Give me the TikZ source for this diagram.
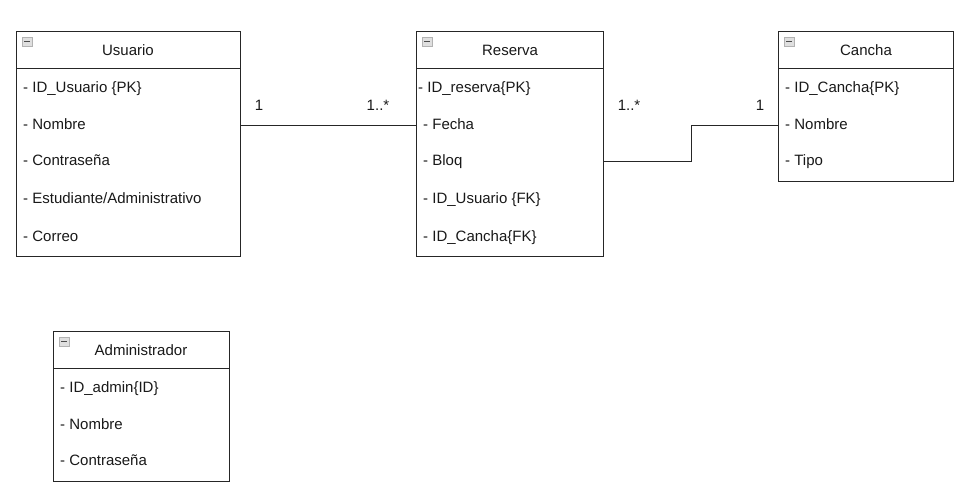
\documentclass[tikz,border=0pt]{standalone}
\usepackage{fontspec}
\setmainfont{Liberation Sans}
\begin{document}
\begin{tikzpicture}[x=1pt,y=-1pt,
  box/.style={draw=black!85,line width=1pt,anchor=north west,inner sep=0pt,fill=white},
  hdr/.style={draw=black!85,line width=1pt},
  ttl/.style={font=\fontsize{15}{17}\selectfont,text=black!90,inner sep=0pt,text height=10.5pt,text depth=2pt},
  attr/.style={font=\fontsize{15}{17}\selectfont,text=black!90,anchor=west,inner sep=0pt,text height=10.5pt,text depth=2pt},
  mult/.style={font=\fontsize{15}{17}\selectfont,text=black!90,inner sep=0pt,text height=10.5pt,text depth=2pt},
  conn/.style={draw=black!85,line width=1pt},
  icon/.style={draw=gray!60,fill=gray!25,line width=0.6pt}
]
\useasboundingbox (0,0) rectangle (973,503);

% Usuario
\node[box,minimum width=224pt,minimum height=225pt] (usuario) at (16,31) {};
\draw[hdr] (16,68) -- (240,68);
\draw[icon] (22,37) rectangle (32,46);
\draw[line width=1.2pt,black!70] (24,41.5) -- (30,41.5);
\node[ttl] (usuarioT) at (128,51) {Usuario};
\node[attr] (u1) at (23,88) {- ID\_Usuario \{PK\}};
\node[attr] (u2) at (23,125) {- Nombre};
\node[attr] (u3) at (23,161) {- Contraseña};
\node[attr] (u4) at (23,199) {- Estudiante/Administrativo};
\node[attr] (u5) at (23,237) {- Correo};

% Reserva
\node[box,minimum width=187pt,minimum height=225pt] (reserva) at (416,31) {};
\draw[hdr] (416,68) -- (603,68);
\draw[icon] (422,37) rectangle (432,46);
\draw[line width=1.2pt,black!70] (424,41.5) -- (430,41.5);
\node[ttl] (reservaT) at (510,51) {Reserva};
\node[attr] (r1) at (418,88) {- ID\_reserva\{PK\}};
\node[attr] (r2) at (423,125) {- Fecha};
\node[attr] (r3) at (423,161) {- Bloq};
\node[attr] (r4) at (423,199) {- ID\_Usuario \{FK\}};
\node[attr] (r5) at (423,237) {- ID\_Cancha\{FK\}};

% Cancha
\node[box,minimum width=175pt,minimum height=150pt] (cancha) at (778,31) {};
\draw[hdr] (778,68) -- (953,68);
\draw[icon] (784,37) rectangle (794,46);
\draw[line width=1.2pt,black!70] (786,41.5) -- (792,41.5);
\node[ttl] (canchaT) at (866,51) {Cancha};
\node[attr] (c1) at (785,88) {- ID\_Cancha\{PK\}};
\node[attr] (c2) at (785,125) {- Nombre};
\node[attr] (c3) at (785,161) {- Tipo};

% Administrador
\node[box,minimum width=176pt,minimum height=150pt] (admin) at (53,331) {};
\draw[hdr] (53,368) -- (229,368);
\draw[icon] (59,337) rectangle (69,346);
\draw[line width=1.2pt,black!70] (61,341.5) -- (67,341.5);
\node[ttl] (adminT) at (141,351) {Administrador};
\node[attr] (a1) at (60,388) {- ID\_admin\{ID\}};
\node[attr] (a2) at (60,425) {- Nombre};
\node[attr] (a3) at (60,461) {- Contraseña};

% connectors
\coordinate (k1) at (691,161);
\coordinate (k2) at (691,125);
\draw[conn] (usuario.east |- u2) -- (reserva.west |- r2) -- (reserva.west |- r3);
\draw[conn] (reserva.east |- r3) -- (k1) -- (k2) -- (cancha.west |- c2);

% multiplicities
\node[mult] (m1) at (259,106) {1};
\node[mult] (m2) at (378,106) {1..*};
\node[mult] (m3) at (629,106) {1..*};
\node[mult] (m4) at (760,106) {1};
\end{tikzpicture}
\end{document}
